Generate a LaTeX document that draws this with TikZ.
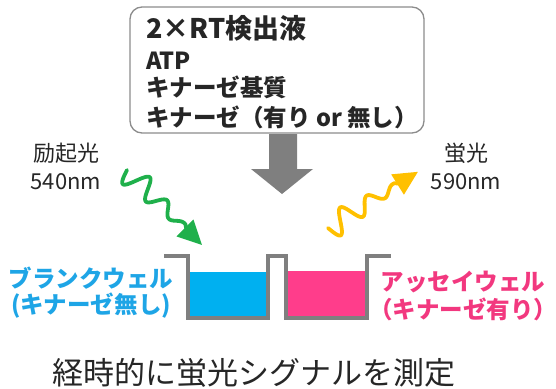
\documentclass[tikz,border=0pt]{standalone}
\usepackage{fontspec}
\setmainfont{Noto Sans CJK JP}
\usetikzlibrary{positioning}
\definecolor{WGray}{HTML}{7F7F7F}
\definecolor{WLine}{HTML}{8C8C8C}
\definecolor{WInk}{HTML}{262626}
\definecolor{WBlue}{HTML}{00B0F0}
\definecolor{WBlueTxt}{HTML}{1EA5E6}
\definecolor{WPink}{HTML}{FF3D8B}
\definecolor{WPinkTxt}{HTML}{F2387F}
\definecolor{WGreen}{HTML}{1FB04B}
\definecolor{WYellow}{HTML}{FFC000}
\newcommand{\px}[2]{\fontsize{#1}{#2}\selectfont}
% wavy light ray: start, angle, colour
\newcommand{\lightray}[3]{%
  \begin{scope}[shift={#1},rotate=#2]
    \draw[#3,line width=3.8pt,line cap=round,line join=round]
      plot[domain=0:80,samples=100,smooth] (\x,{(14-0.14*\x)*sin(12.5*\x)}) -- (84,0);
    \fill[#3] (106,0) -- (82,12) -- (82,-12) -- cycle;
  \end{scope}}

\begin{document}
\begin{tikzpicture}[x=1pt,y=-1pt,
  every node/.style={text=WInk,inner sep=0pt},
  panel/.style={draw=WLine,line width=1.3pt,rounded corners=12pt,
    minimum width=294pt,minimum height=126pt,fill=white},
  mixline/.style={anchor=base west,font=\px{23.5}{23.5}\bfseries},
  lbl/.style={align=center,font=\px{22}{28}},
  welllbl/.style={align=center,font=\px{23.5}{26}\bfseries},
  well/.style={draw=WGray,line width=3.5pt,line join=miter}
]
  \useasboundingbox (0,0) rectangle (556,388);

  % reagent panel
  \node[panel] (mix) at (277,70) {};
  \node[mixline,font=\px{27}{27}\bfseries] (rt) at (146,38) {2×RT検出液};
  \node[mixline] (atp) at (146,69) {ATP};
  \node[mixline] (sub) at (146,96.5) {キナーゼ基質};
  \node[mixline] (kin) at (146,126) {キナーゼ（有り or 無し）};

  % add to wells
  \fill[WGray] (269,134) -- (297,134) -- (297,169) -- (313,169)
    -- (282,194) -- (251,169) -- (269,169) -- cycle;

  % light in and out
  \node[lbl] (exc) at (66,166) {励起光\\540nm};
  \node[lbl] (emi) at (466,166) {蛍光\\590nm};
  \lightray{(127,170)}{-45}{WGreen}
  \lightray{(328,228)}{32}{WYellow}

  % wells
  \fill[WBlue] (189,272) rectangle (266,316);
  \fill[WPink] (288,271) rectangle (366,316);
  \draw[well] (164,256) -- (188,256) -- (188,318) -- (268,318) -- (268,256)
    -- (286,256) -- (286,318) -- (367,318) -- (367,256) -- (391,256);

  \node[welllbl,text=WBlueTxt] (blank) at (91,293) {ブランクウェル\\(キナーゼ無し)};
  \node[welllbl,text=WPinkTxt,font=\px{23.5}{28}\bfseries] (assay) at (463,296)
    {アッセイウェル\\（キナーゼ有り）};

  \node[font=\px{31}{31},anchor=base] (meas) at (254,384) {経時的に蛍光シグナルを測定};
\end{tikzpicture}
\end{document}
